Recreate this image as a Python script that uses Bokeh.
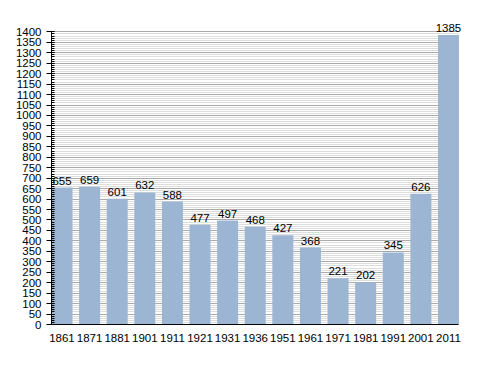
from bokeh.plotting import figure
from bokeh.models import Range1d, SingleIntervalTicker, FixedTicker, ColumnDataSource, LabelSet
from bokeh.core.properties import value
from bokeh.embed import file_html
from bokeh.resources import INLINE

years = ["1861", "1871", "1881", "1901", "1911", "1921", "1931", "1936",
         "1951", "1961", "1971", "1981", "1991", "2001", "2011"]
population = [655, 659, 601, 632, 588, 477, 497, 468, 427, 368, 221, 202, 345, 626, 1385]

idx = list(range(len(years)))
src = ColumnDataSource(dict(x=idx, top=population, lab=[str(v) for v in population]))

FONT = "Liberation Sans"
half = 0.38
x0, x1 = -half, len(years) - 1 + half

p = figure(width=472, height=352, output_backend="svg", toolbar_location=None,
           x_range=Range1d(x0, x1 + 0.2), y_range=Range1d(0, 1440),
           min_border_left=51, min_border_right=8, min_border_top=23, min_border_bottom=28)
p.outline_line_color = None
p.background_fill_color = "white"

p.vbar(x="x", top="top", width=2 * half, source=src, fill_color="#9BB5D2", line_color=None)

labels = LabelSet(x="x", y="top", text="lab", source=src, text_align="center",
                  text_baseline="bottom", y_offset=3, text_font=value(FONT),
                  text_font_size="11.5px", text_color="black")
p.add_layout(labels)

p.yaxis.ticker = SingleIntervalTicker(interval=50, num_minor_ticks=5)
p.ygrid.ticker = SingleIntervalTicker(interval=50, num_minor_ticks=5)
p.ygrid.bounds = (0, 1400)
p.ygrid.cross_bounds = (x0, x1)
p.yaxis.bounds = (0, 1400)
p.xaxis.bounds = (x0, x1)
p.ygrid.grid_line_color = "#AAAAAA"
p.ygrid.minor_grid_line_color = "#DDDDDD"
p.xgrid.grid_line_color = None

p.xaxis.ticker = FixedTicker(ticks=idx)
p.xaxis.major_label_overrides = {i: y for i, y in zip(idx, years)}
p.xaxis.major_tick_line_color = None
p.xaxis.minor_tick_line_color = None
p.xaxis.axis_line_color = "black"

p.yaxis.axis_line_color = "black"
p.yaxis.major_tick_out = 5
p.yaxis.major_tick_in = 3
p.yaxis.minor_tick_in = 3
p.yaxis.minor_tick_out = 0
p.yaxis.major_label_standoff = 5

for ax in (p.xaxis, p.yaxis):
    ax.major_label_text_font = FONT
    ax.major_label_text_font_size = "11.5px"
    ax.major_label_text_color = "black"

p.xaxis.major_label_standoff = 3

open("out.html", "w").write(file_html(p, INLINE))
